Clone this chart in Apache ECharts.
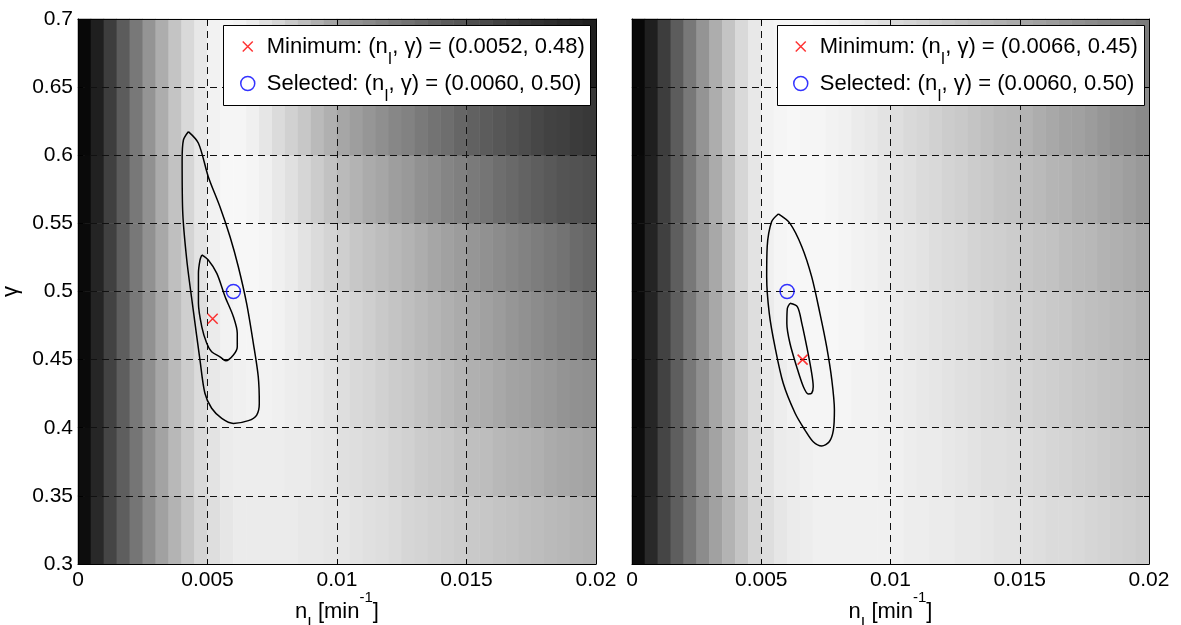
<!DOCTYPE html>
<html>
<head>
<meta charset="utf-8">
<title>nI - gamma objective maps</title>
<script src="https://cdn.jsdelivr.net/npm/echarts@6/dist/echarts.min.js"></script>
<style>
  html, body { margin: 0; background: #fff; }
  #chart { width: 1181px; height: 625px; }
</style>
</head>
<body>
<div id="chart"></div>
<script>
// axis ranges (n_I in min^-1, gamma)
const xRange = [0, 0.02, 0.005];
const yRange = [0.3, 0.7, 0.05];

// markers
const minLeft = [0.0052, 0.48];
const selLeft = [0.0060, 0.50];
const minRight = [0.0066, 0.45];
const selRight = [0.0060, 0.50];

// background gray level (0 black .. 100 white), 40 columns of 0.0005,
// rows of 0.05 from gamma 0.30 (first) to 0.70 (last)
const grayLeft = [
  [5,16,27,37,46,55,63,70,77,83, 87,90,92,92,92,92,92,91,91,90, 90,89,88,87,86,84,83,82,81,80, 79,78,77,76,75,74,73,72,71,70],
  [5,15,27,37,46,56,64,72,79,85, 89,92,93,93,93,93,92,92,91,90, 88,87,86,85,83,82,80,79,78,76, 75,74,72,71,70,69,67,66,65,64],
  [4,15,26,37,47,56,65,73,80,86, 91,93,94,95,95,94,93,92,91,89, 87,85,84,82,80,79,77,75,73,71, 69,68,66,64,63,61,60,58,57,56],
  [4,14,26,37,47,57,66,74,81,87, 92,95,96,96,96,95,93,91,89,87, 85,83,81,79,77,75,73,71,69,67, 65,63,61,59,57,55,53,51,50,48],
  [4,14,25,37,47,57,66,75,83,89, 94,96,97,97,96,94,92,89,86,83, 81,78,76,74,72,70,68,65,63,61, 59,57,55,53,51,49,47,45,42,40],
  [4,13,25,36,47,57,67,76,84,90, 95,97,97,96,94,91,88,84,80,76, 73,70,67,65,62,60,57,55,52,50, 48,46,43,41,39,37,35,33,32,31],
  [3,12,24,36,47,58,68,77,85,91, 95,96,96,94,90,86,82,78,73,69, 65,62,59,56,53,51,48,45,43,40, 38,36,34,32,30,28,26,25,23,22],
  [3,12,24,36,47,58,68,77,85,91, 95,96,95,92,88,84,79,74,69,64, 60,57,54,51,48,45,42,39,36,34, 31,29,26,24,22,20,18,16,14,12]
];
const grayRight = [
  [5,16,27,37,46,55,63,70,77,83, 87,90,92,93,94,94,94,94,94,94, 94,93,93,92,92,91,91,90,89,89, 88,87,86,86,85,84,83,82,81,80],
  [5,15,27,37,46,56,64,72,79,85, 89,92,93,94,95,95,95,95,95,94, 94,93,92,92,91,90,89,88,88,87, 86,85,84,83,82,81,80,79,78,77],
  [4,15,26,37,47,56,65,73,80,86, 91,93,95,96,96,96,96,95,95,94, 93,92,91,90,89,88,87,86,85,84, 83,82,81,80,79,78,77,76,75,74],
  [4,14,26,37,47,57,66,74,81,87, 92,95,96,97,97,97,96,96,95,94, 92,91,90,89,88,87,86,85,83,82, 81,80,79,78,76,75,74,73,72,70],
  [4,14,25,37,47,57,66,75,83,89, 94,96,97,97,97,97,96,95,94,93, 91,90,89,87,86,85,83,82,81,80, 78,77,76,74,73,72,70,69,68,66],
  [4,13,25,36,47,57,67,76,84,90, 95,97,97,97,97,96,95,94,93,91, 89,88,86,85,83,82,80,79,77,76, 74,73,71,70,68,67,65,64,62,60],
  [3,12,24,36,47,58,68,77,85,91, 95,96,97,96,96,95,94,92,91,89, 87,85,84,82,80,79,77,75,73,72, 70,68,66,64,63,61,59,57,56,54],
  [3,12,24,36,47,58,68,77,85,91, 95,96,96,96,95,94,92,91,89,87, 85,83,81,79,77,75,73,71,69,67, 65,63,61,59,57,55,53,51,50,48]
];

// contour lines
const outerLeft = [
  [0.00426,0.6173],[0.00465,0.6088],[0.00503,0.5843],[0.00548,0.5622],[0.00587,0.5402],
  [0.00619,0.5182],[0.00651,0.4913],[0.00677,0.4620],[0.00696,0.4374],[0.00700,0.4179],
  [0.00690,0.4093],[0.00658,0.4052],[0.00600,0.4032],[0.00555,0.4069],[0.00516,0.4143],
  [0.00490,0.4253],[0.00471,0.4497],[0.00445,0.4864],[0.00420,0.5231],[0.00404,0.5598],
  [0.00402,0.5965],[0.00407,0.6112],[0.00426,0.6173]
];
const innerLeft = [
  [0.00478,0.5268],[0.00503,0.5231],[0.00536,0.5133],[0.00568,0.4962],[0.00600,0.4815],
  [0.00615,0.4693],[0.00615,0.4595],[0.00600,0.4534],[0.00571,0.4492],[0.00548,0.4521],
  [0.00516,0.4558],[0.00497,0.4620],[0.00478,0.4741],[0.00465,0.4913],[0.00465,0.5133],
  [0.00471,0.5231],[0.00478,0.5268]
];
const outerRight = [
  [0.00566,0.5569],[0.00611,0.5500],[0.00657,0.5329],[0.00695,0.5109],[0.00727,0.4840],
  [0.00753,0.4595],[0.00773,0.4350],[0.00783,0.4130],[0.00779,0.3983],[0.00763,0.3897],
  [0.00734,0.3866],[0.00701,0.3897],[0.00669,0.3983],[0.00631,0.4106],[0.00585,0.4326],
  [0.00553,0.4595],[0.00531,0.4840],[0.00521,0.5109],[0.00523,0.5329],[0.00540,0.5512],
  [0.00566,0.5569]
];
const innerRight = [
  [0.00611,0.4913],[0.00640,0.4888],[0.00657,0.4766],[0.00676,0.4595],[0.00693,0.4424],
  [0.00701,0.4301],[0.00695,0.4253],[0.00682,0.4248],[0.00663,0.4301],[0.00637,0.4448],
  [0.00611,0.4620],[0.00599,0.4766],[0.00601,0.4877],[0.00611,0.4913]
];

const FONT = '"Liberation Sans", Arial, Helvetica, sans-serif';
const CROSS = 'path://M0,0L10,10M10,0L0,10';
const colIdx = grayLeft[0].map((v, i) => i);
const rowIdx = grayLeft.map((r, j) => j);

const legendText = {
  minL: 'Minimum: (n{sub|I}, γ) = (' + minLeft[0].toFixed(4) + ', ' + minLeft[1].toFixed(2) + ')',
  selL: 'Selected: (n{sub|I}, γ) = (' + selLeft[0].toFixed(4) + ', ' + selLeft[1].toFixed(2) + ')',
  minR: 'Minimum: (n{sub|I}, γ) = (' + minRight[0].toFixed(4) + ', ' + minRight[1].toFixed(2) + ')',
  selR: 'Selected: (n{sub|I}, γ) = (' + selRight[0].toFixed(4) + ', ' + selRight[1].toFixed(2) + ')'
};

function cells(rows) {
  const out = [];
  rows.forEach((row, j) => row.forEach((v, i) => out.push([i, j, v])));
  return out;
}

const nameStyle = {
  fontSize: 22, lineHeight: 43, color: '#000', fontFamily: FONT,
  rich: {
    sub: { fontSize: 16, lineHeight: 16, verticalAlign: 'bottom', fontFamily: FONT, color: '#000' },
    sup: { fontSize: 15, lineHeight: 21, verticalAlign: 'top', fontFamily: FONT, color: '#000' }
  }
};

const tick = { show: true, inside: true, length: 5, lineStyle: { color: '#000', width: 1 } };
const dash = { show: true, lineStyle: { color: '#111', width: 1, type: [7, 5] } };
const line = { show: true, onZero: false, lineStyle: { color: '#000', width: 1 } };

function xAxes(g) {
  return [
    {
      type: 'value', gridIndex: g, min: xRange[0], max: xRange[1], interval: xRange[2],
      position: 'bottom', z: 3, axisLine: line, axisTick: tick, splitLine: dash,
      axisLabel: { margin: 6, fontSize: 21, color: '#000', fontFamily: FONT },
      name: 'n{sub|I} [min{sup|-1}]', nameLocation: 'middle', nameGap: 26,
      nameMoveOverlap: false, nameTextStyle: nameStyle
    },
    {
      type: 'value', gridIndex: g, min: xRange[0], max: xRange[1], interval: xRange[2],
      position: 'top', z: 3, axisLine: line, axisTick: tick,
      axisLabel: { show: false }, splitLine: { show: false }
    },
    { type: 'category', gridIndex: g, data: colIdx, show: false }
  ];
}

function yAxes(g, labels) {
  return [
    {
      type: 'value', gridIndex: g, min: yRange[0], max: yRange[1], interval: yRange[2],
      position: 'left', z: 3, axisLine: line, axisTick: tick, splitLine: dash,
      axisLabel: { show: labels, margin: 5, fontSize: 21, color: '#000', fontFamily: FONT },
      name: labels ? 'γ' : '', nameLocation: 'middle', nameGap: 56,
      nameTextStyle: { fontSize: 22, color: '#000', fontFamily: FONT }
    },
    {
      type: 'value', gridIndex: g, min: yRange[0], max: yRange[1], interval: yRange[2],
      position: 'right', z: 3, axisLine: line, axisTick: tick,
      axisLabel: { show: false }, splitLine: { show: false }
    },
    { type: 'category', gridIndex: g, data: rowIdx, show: false }
  ];
}

function panel(g, gray, outer, inner, minPt, selPt, minName, selName) {
  const xa = g * 3, ya = g * 3;
  return [
    {
      type: 'heatmap', xAxisIndex: xa + 2, yAxisIndex: ya + 2, data: cells(gray),
      z: 1, silent: true, emphasis: { disabled: true }, progressive: 0
    },
    {
      type: 'line', xAxisIndex: xa, yAxisIndex: ya, data: outer, z: 4, silent: true,
      showSymbol: false, smooth: 0.3, lineStyle: { color: '#000', width: 1.5 }
    },
    {
      type: 'line', xAxisIndex: xa, yAxisIndex: ya, data: inner, z: 4, silent: true,
      showSymbol: false, smooth: 0.3, lineStyle: { color: '#000', width: 1.5 }
    },
    {
      name: minName, type: 'scatter', xAxisIndex: xa, yAxisIndex: ya, data: [minPt], z: 5,
      symbol: CROSS, symbolSize: 10,
      itemStyle: { color: 'transparent', borderColor: '#ff0000', borderWidth: 1.5 }
    },
    {
      name: selName, type: 'scatter', xAxisIndex: xa, yAxisIndex: ya, data: [selPt], z: 5,
      symbol: 'circle', symbolSize: 14,
      itemStyle: { color: 'transparent', borderColor: '#0000ff', borderWidth: 1.5 }
    }
  ];
}

function legendItem(name, icon, color, size, left, top) {
  return {
    data: [{ name: name, icon: icon, itemStyle: { color: 'transparent', borderColor: color, borderWidth: 1.5 } }],
    left: left, top: top, padding: 0, itemWidth: 28, itemHeight: size, z: 10,
    selectedMode: false, formatter: n => legendText[n],
    textStyle: {
      fontSize: 22, lineHeight: 43, color: '#000', fontFamily: FONT,
      rich: { sub: { fontSize: 16, lineHeight: 16, verticalAlign: 'bottom', fontFamily: FONT, color: '#000' } }
    }
  };
}

const chart = echarts.init(document.getElementById('chart'));
chart.setOption({
  animation: false,
  backgroundColor: '#fff',
  grid: [
    { left: 78, top: 19, width: 518, height: 545, outerBoundsMode: 'none', containLabel: false },
    { left: 632, top: 19, width: 517, height: 545, outerBoundsMode: 'none', containLabel: false }
  ],
  xAxis: xAxes(0).concat(xAxes(1)),
  yAxis: yAxes(0, true).concat(yAxes(1, false)),
  visualMap: {
    type: 'continuous', show: false, min: 0, max: 100, dimension: 2,
    seriesIndex: [0, 5], inRange: { color: ['#000000', '#ffffff'] }
  },
  graphic: [
    { type: 'rect', z: 8, shape: { x: 223.5, y: 25.5, width: 367, height: 80 }, style: { fill: '#fff', stroke: '#000', lineWidth: 1 } },
    { type: 'rect', z: 8, shape: { x: 777.5, y: 25.5, width: 367, height: 80 }, style: { fill: '#fff', stroke: '#000', lineWidth: 1 } }
  ],
  legend: [
    legendItem('minL', CROSS, '#ff0000', 10, 242, 25),
    legendItem('selL', 'circle', '#0000ff', 14, 240, 62),
    legendItem('minR', CROSS, '#ff0000', 10, 795, 25),
    legendItem('selR', 'circle', '#0000ff', 14, 793, 62)
  ],
  series: panel(0, grayLeft, outerLeft, innerLeft, minLeft, selLeft, 'minL', 'selL')
    .concat(panel(1, grayRight, outerRight, innerRight, minRight, selRight, 'minR', 'selR'))
});
</script>
</body>
</html>
